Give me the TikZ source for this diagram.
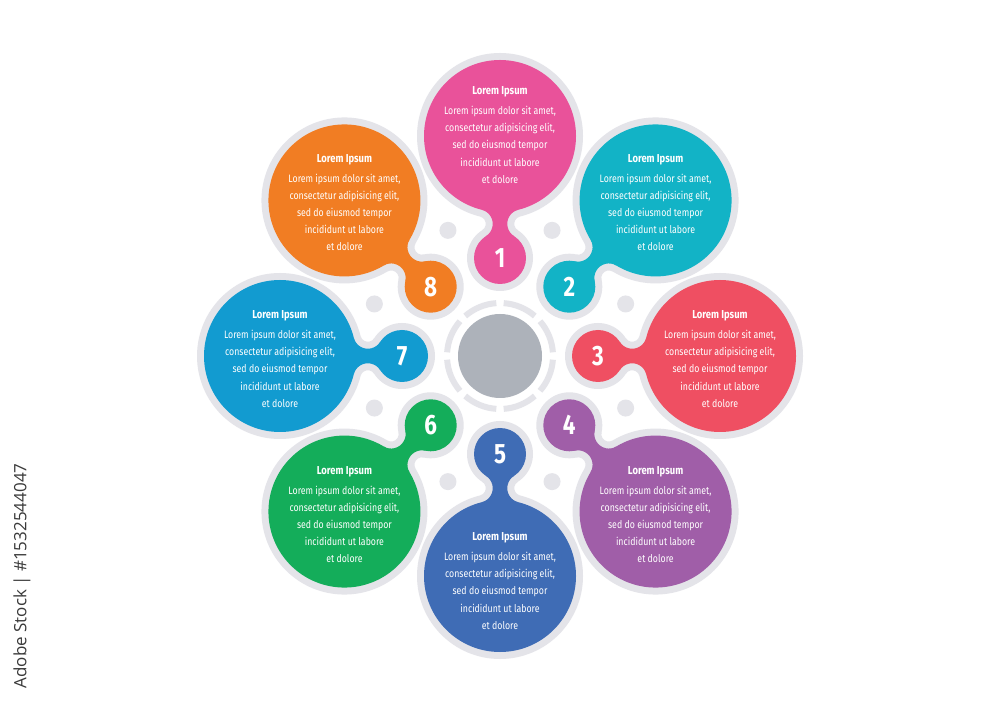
\documentclass[tikz,border=0pt]{standalone}
\usepackage{fontspec}
\setmainfont{Fira Sans}[FakeStretch=0.82]
\newfontfamily\numfont{Fira Sans}[FakeStretch=0.8]
\newfontfamily\wmfont{Open Sans}
\usetikzlibrary{calc}
\definecolor{cpink}{HTML}{E9529A}
\definecolor{ccyan}{HTML}{12B3C6}
\definecolor{cred}{HTML}{EF4F62}
\definecolor{cpurple}{HTML}{A05EA8}
\definecolor{cblue}{HTML}{3F6CB5}
\definecolor{cgreen}{HTML}{14AD5A}
\definecolor{csky}{HTML}{129BD0}
\definecolor{corange}{HTML}{F17D23}
\definecolor{outl}{HTML}{E4E4E9}
\definecolor{hub}{HTML}{ADB2BA}
\definecolor{wm}{HTML}{3A3A3A}
\tikzset{
  outlfill/.style={fill=outl},
  ring/.style={draw=outl,line width=6pt},
  dotfill/.style={fill=outl},
  numtext/.style={text=white,font=\numfont\bfseries\fontsize{28}{30}\selectfont,inner sep=0pt},
  bodytext/.style={text=white,align=center,inner sep=0pt,font=\fontsize{10.7}{17.1}\selectfont},
}
\newcommand\neckpath[1]{({98+\na+#1*cos(\nts)}, {\nh+#1*sin(\nts)}) arc[start angle=\nts, end angle=\ntb, radius=#1] -- ({98+\na+#1*cos(\ntb)}, {-\nh-#1*sin(\ntb)}) arc[start angle=-\ntb, end angle=-\nts, radius=#1] -- cycle}
\newcommand\drawpetal[2]{%
  \begin{scope}[shift={(500,351)}, rotate=#1]
    \fill[outlfill] (98,0) circle[radius=33] (220,0) circle[radius=83];
    \fill[outlfill] \neckpath{7.5};
    \fill[#2] (98,0) circle[radius=26] (220,0) circle[radius=76];
    \fill[#2] \neckpath{14.5};
  \end{scope}}
\newcommand\petaltext{{\bfseries\fontsize{11.5}{17.1}\selectfont Lorem Ipsum}\\[2.9pt]Lorem ipsum dolor sit amet,\\consectetur adipisicing elit,\\sed do eiusmod tempor\\incididunt ut labore\\et dolore}
\begin{document}
\begin{tikzpicture}[x=1pt,y=1pt]
\fill[white] (0,0) rectangle (1000,707);
\useasboundingbox (0,0) rectangle (1000,707);
% neck geometry: r=26, R=76, D=122, rf=14.5
\pgfmathsetmacro\na{8334/244}
\pgfmathsetmacro\nh{sqrt(1640.25-\na*\na)}
\pgfmathsetmacro\nts{atan2(-\nh,-\na)}
\pgfmathsetmacro\ntb{atan2(-\nh,122-\na)}
\coordinate (C) at (500,351);
% dots
\foreach \k in {0,...,7}{
  \fill[dotfill] ($(C)+(22.5+45*\k:136)$) circle[radius=8.5];
}
% ring
\foreach \k in {0,...,7}{
  \draw[ring] ($(C)+(45*\k+4:53)$) arc[start angle=45*\k+4, end angle=45*\k+41, radius=53];
}
\fill[hub] (C) circle[radius=42];
% petals
\drawpetal{90}{cpink}
\drawpetal{45}{ccyan}
\drawpetal{0}{cred}
\drawpetal{-45}{cpurple}
\drawpetal{-90}{cblue}
\drawpetal{-135}{cgreen}
\drawpetal{180}{csky}
\drawpetal{135}{corange}
% numbers
\node[numtext] (n1) at ($(C)+(90:98)$) {1};
\node[numtext] (n2) at ($(C)+(45:98)$) {2};
\node[numtext] (n3) at ($(C)+(0:98)$) {3};
\node[numtext] (n4) at ($(C)+(-45:98)$) {4};
\node[numtext] (n5) at ($(C)+(-90:98)$) {5};
\node[numtext] (n6) at ($(C)+(-135:98)$) {6};
\node[numtext] (n7) at ($(C)+(180:98)$) {7};
\node[numtext] (n8) at ($(C)+(135:98)$) {8};
% texts
\node[bodytext] (t1) at ($(C)+(90:220)+(0,1)$) {\petaltext};
\node[bodytext] (t2) at ($(C)+(45:220)+(0,-2)$) {\petaltext};
\node[bodytext] (t3) at ($(C)+(0:220)+(0,-3)$) {\petaltext};
\node[bodytext] (t4) at ($(C)+(-45:220)+(0,-3)$) {\petaltext};
\node[bodytext] (t5) at ($(C)+(-90:220)+(0,-5)$) {\petaltext};
\node[bodytext] (t6) at ($(C)+(-135:220)+(0,-3)$) {\petaltext};
\node[bodytext] (t7) at ($(C)+(180:220)+(0,-3)$) {\petaltext};
\node[bodytext] (t8) at ($(C)+(135:220)+(0,-2)$) {\petaltext};
% stock label
\node[rotate=90, text=wm, font=\wmfont\fontsize{17}{19}\selectfont, inner sep=0pt] (wmlabel) at (22,131) {Adobe Stock | \#1532544047};
\end{tikzpicture}
\end{document}
